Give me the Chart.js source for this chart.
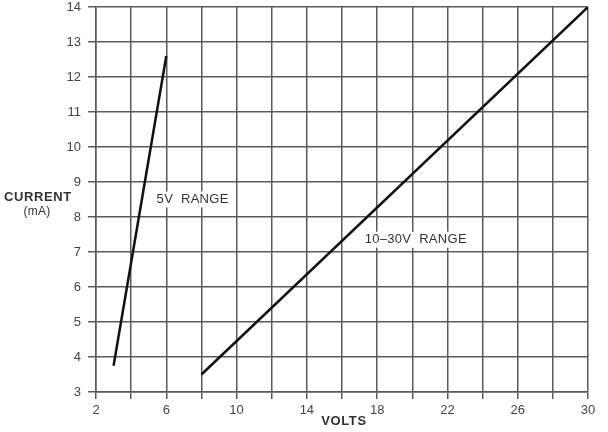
<!DOCTYPE html>
<html>
<head>
<meta charset="utf-8">
<script src="https://cdn.jsdelivr.net/npm/chart.js@4/dist/chart.umd.min.js"></script>
<style>
  html, body { margin: 0; padding: 0; background: #fff; }
  #wrap { width: 608px; height: 432px; }
</style>
</head>
<body>
<div id="wrap"><canvas id="myChart" width="608" height="432"></canvas></div>
<script>
"use strict";

// data
const range5V = [{ x: 3, y: 3.75 }, { x: 6, y: 12.6 }];
const range10to30V = [{ x: 8, y: 3.5 }, { x: 30, y: 14 }];
const xLabelTicks = [2, 6, 10, 14, 18, 22, 26, 30];
const rangeNames = ["5V  RANGE", "10–30V  RANGE"];
const rangeNameAt = [{ x: 7.5, y: 8.5 }, { x: 20.2, y: 7.35 }];

const FONT = "'Liberation Sans', Arial, sans-serif";

// titles and in-plot labels
const textPlugin = {
  id: "texts",
  afterDatasetsDraw(chart) {
    const ctx = chart.ctx;
    const xs = chart.scales.x;
    const ys = chart.scales.y;
    ctx.save();
    ctx.textAlign = "center";
    ctx.textBaseline = "middle";
    ctx.font = "13px " + FONT;
    ctx.letterSpacing = "0.3px";
    rangeNames.forEach((name, i) => {
      const px = xs.getPixelForValue(rangeNameAt[i].x);
      const py = ys.getPixelForValue(rangeNameAt[i].y);
      const w = ctx.measureText(name).width;
      ctx.fillStyle = "#fff";
      ctx.fillRect(px - w / 2 - 4, py - 8, w + 8, 16);
      ctx.fillStyle = "#333";
      ctx.fillText(name, px, py);
    });
    ctx.fillStyle = "#333";
    ctx.font = "bold 13px " + FONT;
    ctx.letterSpacing = "0.6px";
    ctx.fillText("CURRENT", 38, 197);
    ctx.fillText("VOLTS", 344, 421);
    ctx.font = "12px " + FONT;
    ctx.letterSpacing = "0.3px";
    ctx.fillText("(mA)", 37, 212);
    ctx.restore();
  },
};

new Chart("myChart", {
  type: "line",
  data: {
    datasets: [
      { data: range5V, borderColor: "#111", borderWidth: 2.5, pointRadius: 0 },
      { data: range10to30V, borderColor: "#111", borderWidth: 2.5, pointRadius: 0 },
    ],
  },
  options: {
    responsive: false,
    animation: false,
    layout: { padding: { top: 7, right: 20, left: 0, bottom: 0 } },
    plugins: { legend: { display: false }, tooltip: { enabled: false } },
    scales: {
      x: {
        type: "linear",
        min: 2,
        max: 30,
        afterFit(scale) {
          scale.height = 40;
          scale.paddingLeft = 0;
          scale.paddingRight = 0;
        },
        grid: { color: "#5a5a5a", lineWidth: 1.5, tickLength: 7, tickColor: "#5a5a5a" },
        border: { color: "#5a5a5a", width: 1.5 },
        ticks: {
          stepSize: 2,
          autoSkip: false,
          maxRotation: 0,
          padding: 4,
          color: "#444",
          font: { family: FONT, size: 13 },
          callback: (v) => (xLabelTicks.includes(v) ? String(v) : ""),
        },
      },
      y: {
        min: 3,
        max: 14,
        afterFit(scale) {
          scale.width = 96;
          scale.paddingTop = 0;
          scale.paddingBottom = 0;
        },
        grid: { color: "#5a5a5a", lineWidth: 1.5, tickLength: 8, tickColor: "#5a5a5a" },
        border: { color: "#5a5a5a", width: 1.5 },
        ticks: {
          stepSize: 1,
          padding: 7,
          color: "#444",
          font: { family: FONT, size: 13 },
        },
      },
    },
  },
  plugins: [textPlugin],
});
</script>
</body>
</html>
